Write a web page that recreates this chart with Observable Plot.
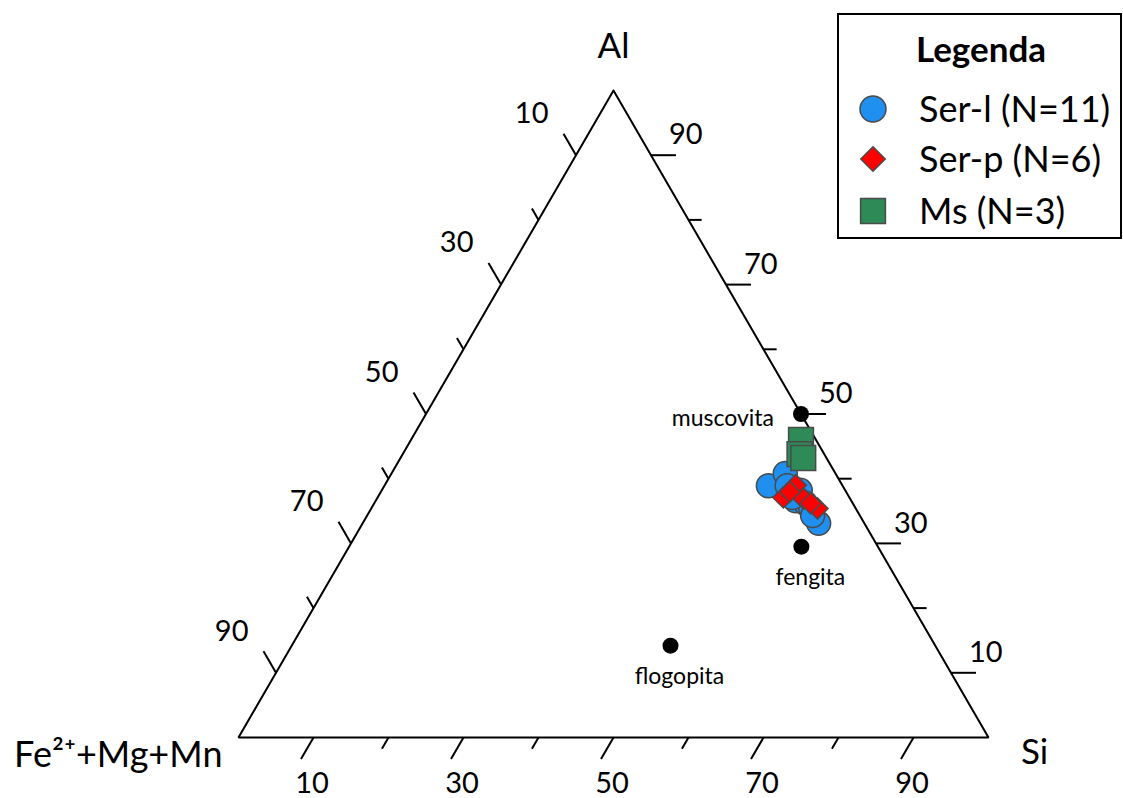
<!DOCTYPE html>
<html>
<head>
<meta charset="utf-8">
<script src="https://cdn.jsdelivr.net/npm/d3@7"></script>
<script src="https://cdn.jsdelivr.net/npm/@observablehq/plot@0.6"></script>
<style>
  body { margin: 0; background: #fff; font-family: Lato, sans-serif; }
  #wrap { position: relative; width: 1123px; height: 798px; overflow: hidden; }
  #legend { position: absolute; left: 837px; top: 13px; }
</style>
</head>
<body>
<div id="wrap"></div>
<script>
// ---------- data (percentages Al / Si / Fe2+ + Mg + Mn) ----------
const vertexLabels = ["Al", "Si", "Fe²⁺+Mg+Mn"];
const tickValues = [10, 20, 30, 40, 50, 60, 70, 80, 90];
const tickLabelValues = [10, 30, 50, 70, 90];

const serL_Al = [38.9, 40.8, 33.1, 36.6, 37.9, 38.2, 36.2, 35.4, 38.9, 34.3, 37.1];
const serL_Si = [51.2, 52.5, 60.8, 56.0, 54.7, 55.8, 57.5, 58.6, 53.7, 59.4, 55.3];
const serL_Fe = [9.9, 6.7, 6.1, 7.4, 7.4, 6.0, 6.3, 6.0, 7.4, 6.3, 7.6];

const serP_Al = [39.0, 37.1, 36.9, 35.4, 38.0, 36.2];
const serP_Si = [54.8, 54.1, 56.9, 59.5, 54.5, 58.2];
const serP_Fe = [6.2, 8.8, 6.2, 5.1, 7.5, 5.6];

const ms_Al = [46.0, 43.8, 43.2];
const ms_Si = [52.0, 52.9, 53.7];
const ms_Fe = [2.0, 3.3, 3.1];

const refNames = ["muscovita", "fengita", "flogopita"];
const ref_Al = [50.0, 29.5, 14.2];
const ref_Si = [50.0, 60.3, 50.5];
const ref_Fe = [0.0, 10.2, 35.3];

const legendLabels = ["Ser-l (N=11)", "Ser-p (N=6)", "Ms (N=3)"];
const legendTitle = "Legenda";

// ---------- ternary helpers ----------
function toXY(al, si, fe) {
  const s = al + si + fe;
  const A = 100 * al / s, S = 100 * si / s;
  return {x: S + A / 2, y: A};
}
function series(al, si, fe, extra) {
  return al.map((a, i) => Object.assign(toXY(a, si[i], fe[i]), extra ? extra(i) : {}));
}

const serL = series(serL_Al, serL_Si, serL_Fe);
const serP = series(serP_Al, serP_Si, serP_Fe);
const ms = series(ms_Al, ms_Si, ms_Fe);
const refs = series(ref_Al, ref_Si, ref_Fe, i => ({name: refNames[i]}));

// triangle outline: Al, Si, Fe corners
const triangle = [toXY(100, 0, 0), toXY(0, 100, 0), toXY(0, 0, 100), toXY(100, 0, 0)];
const vAl = [toXY(100, 0, 0)], vSi = [toXY(0, 100, 0)], vFe = [toXY(0, 0, 100)];

const LMAJ = 3.33, LMIN = 1.75;
const len = v => (tickLabelValues.includes(v) ? LMAJ : LMIN);
// bottom axis: Si, tick along Si = const (beyond Al = 0)
const bottomTicks = tickValues.map(v => {
  const L = len(v);
  return {x1: v, y1: 0, x2: v - L / 2, y2: -L, v};
});
// left axis: Fe, tick along Fe = const (beyond Si = 0)
const leftTicks = tickValues.map(v => {
  const L = len(v);
  const a0 = 100 - v, a1 = 100 - v + L;
  return {x1: a0 / 2, y1: a0, x2: -L + a1 / 2, y2: a1, v};
});
// right axis: Al, tick along Al = const (beyond Fe = 0)
const rightTicks = tickValues.map(v => {
  const L = len(v);
  return {x1: 100 - v + v / 2, y1: v, x2: 100 - v + L + v / 2, y2: v, v};
});
const ticks = [...bottomTicks, ...leftTicks, ...rightTicks];
const lab = arr => arr.filter(d => tickLabelValues.includes(d.v));

const BLUE = "#1f8ff0", RED = "#ff0000", GREEN = "#2e8b57", EDGE = "#4a4a4a";

const plot = Plot.plot({
  width: 1123,
  height: 798,
  marginLeft: 238,
  marginRight: 135,
  marginTop: 90,
  marginBottom: 61,
  x: {domain: [0, 100], axis: null},
  y: {domain: [0, 100], axis: null},
  style: {fontFamily: "Lato, sans-serif", background: "white", color: "black", overflow: "visible"},
  marks: [
    Plot.line(triangle, {x: "x", y: "y", stroke: "black", strokeWidth: 2, strokeLinejoin: "miter"}),
    Plot.link(ticks, {x1: "x1", y1: "y1", x2: "x2", y2: "y2", stroke: "black", strokeWidth: 2}),
    Plot.text(lab(bottomTicks), {x: "x2", y: "y2", text: "v", fontSize: 29, dx: 11, dy: 25, textAnchor: "middle"}),
    Plot.text(lab(leftTicks), {x: "x2", y: "y2", text: "v", fontSize: 29, dx: -15, dy: -20, textAnchor: "end"}),
    Plot.text(lab(rightTicks), {x: "x2", y: "y2", text: "v", fontSize: 29, dx: -7, dy: -20, textAnchor: "start"}),
    Plot.text(vAl, {x: "x", y: "y", text: [vertexLabels[0]], fontSize: 35, dy: -44, textAnchor: "middle"}),
    Plot.text(vSi, {x: "x", y: "y", text: [vertexLabels[1]], fontSize: 35, dx: 46, dy: 15, textAnchor: "middle"}),
    Plot.text(vFe, {x: "x", y: "y", text: [vertexLabels[2]], fontSize: 36, dx: -16, dy: 18, textAnchor: "end"}),
    Plot.dot(refs, {x: "x", y: "y", r: 8, fill: "black"}),
    Plot.text(refs.filter(d => d.name === "muscovita"), {x: "x", y: "y", text: "name", fontSize: 23, dx: -27, dy: 5, textAnchor: "end"}),
    Plot.text(refs.filter(d => d.name !== "muscovita"), {x: "x", y: "y", text: "name", fontSize: 23, dx: 9, dy: 31, textAnchor: "middle"}),
    Plot.dot(serL, {x: "x", y: "y", r: 12, symbol: "circle", fill: BLUE, stroke: EDGE, strokeWidth: 1.5}),
    Plot.dot(serP, {x: "x", y: "y", r: 9.5, symbol: "diamond2", fill: RED, stroke: EDGE, strokeWidth: 1.5}),
    Plot.dot(ms, {x: "x", y: "y", r: 14, symbol: "square", fill: GREEN, stroke: EDGE, strokeWidth: 1.5})
  ]
});

const wrap = document.getElementById("wrap");
wrap.appendChild(plot);

// ---------- legend box (overlay, top right) ----------
const legW = 285, legH = 226;
const leg = d3.select(wrap).append("div").attr("id", "legend")
  .append("svg").attr("width", legW).attr("height", legH)
  .style("font-family", "Lato, sans-serif");
leg.append("rect").attr("x", 1).attr("y", 1).attr("width", legW - 2).attr("height", legH - 2)
  .attr("fill", "white").attr("stroke", "black").attr("stroke-width", 2);
leg.append("text").attr("x", 144).attr("y", 49).attr("text-anchor", "middle")
  .attr("font-size", 35).attr("font-weight", "bold").text(legendTitle);
const legSym = [
  {type: d3.symbolCircle, r: 13, fill: BLUE},
  {type: d3.symbolDiamond2, r: 11, fill: RED},
  {type: d3.symbolSquare, r: 14, fill: GREEN}
];
const rowsY = [96, 146, 198];
legendLabels.forEach((t, i) => {
  const s = legSym[i];
  leg.append("path")
    .attr("transform", `translate(36,${rowsY[i]})`)
    .attr("d", d3.symbol(s.type, s.r * s.r * Math.PI)())
    .attr("fill", s.fill).attr("stroke", EDGE).attr("stroke-width", 1.5);
  leg.append("text").attr("x", 82).attr("y", rowsY[i]).attr("dy", "0.35em")
    .attr("font-size", 36).text(t);
});
</script>
</body>
</html>
